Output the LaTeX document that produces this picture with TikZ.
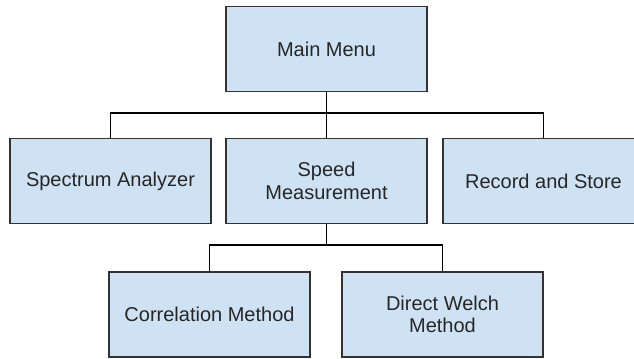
\documentclass[tikz,border=0pt]{standalone}
\usepackage{fontspec}
\setmainfont{Liberation Sans}
\begin{document}
\begin{tikzpicture}[x=0.75pt,y=-0.75pt,
  box/.style={draw=black!80, line width=1.1pt, fill=boxfill,
    minimum width=150.75pt, minimum height=63.75pt, inner sep=2pt,
    align=center, text=black!85, font=\fontsize{15}{16.8}\selectfont},
  wire/.style={draw=black, line width=1.1pt}]
\definecolor{boxfill}{HTML}{CFE2F3}
\useasboundingbox (0,0) rectangle (634,358);
\clip (0,0) rectangle (634,358);

% top level
\node[box] (main)  at (326.5,49)  {Main Menu};
% second level
\node[box] (spec)  at (110.5,181) {Spectrum Analyzer};
\node[box] (speed) at (326.5,181) {Speed\\Measurement};
\node[box] (rec)   at (543.5,181) {Record and Store};
% third level
\node[box] (corr)  at (209.5,314.5) {Correlation Method};
\node[box] (welch) at (442.5,314.5) {Direct Welch\\Method};

% junctions of the two buses
\coordinate (j1) at (326.5,113);
\coordinate (j2) at (326.5,245);

\draw[wire] (main.south) -- (speed.north);
\draw[wire] (spec.north) |- (j1) -| (rec.north);
\draw[wire] (speed.south) -- (j2);
\draw[wire] (corr.north) |- (j2) -| (welch.north);
\end{tikzpicture}
\end{document}
